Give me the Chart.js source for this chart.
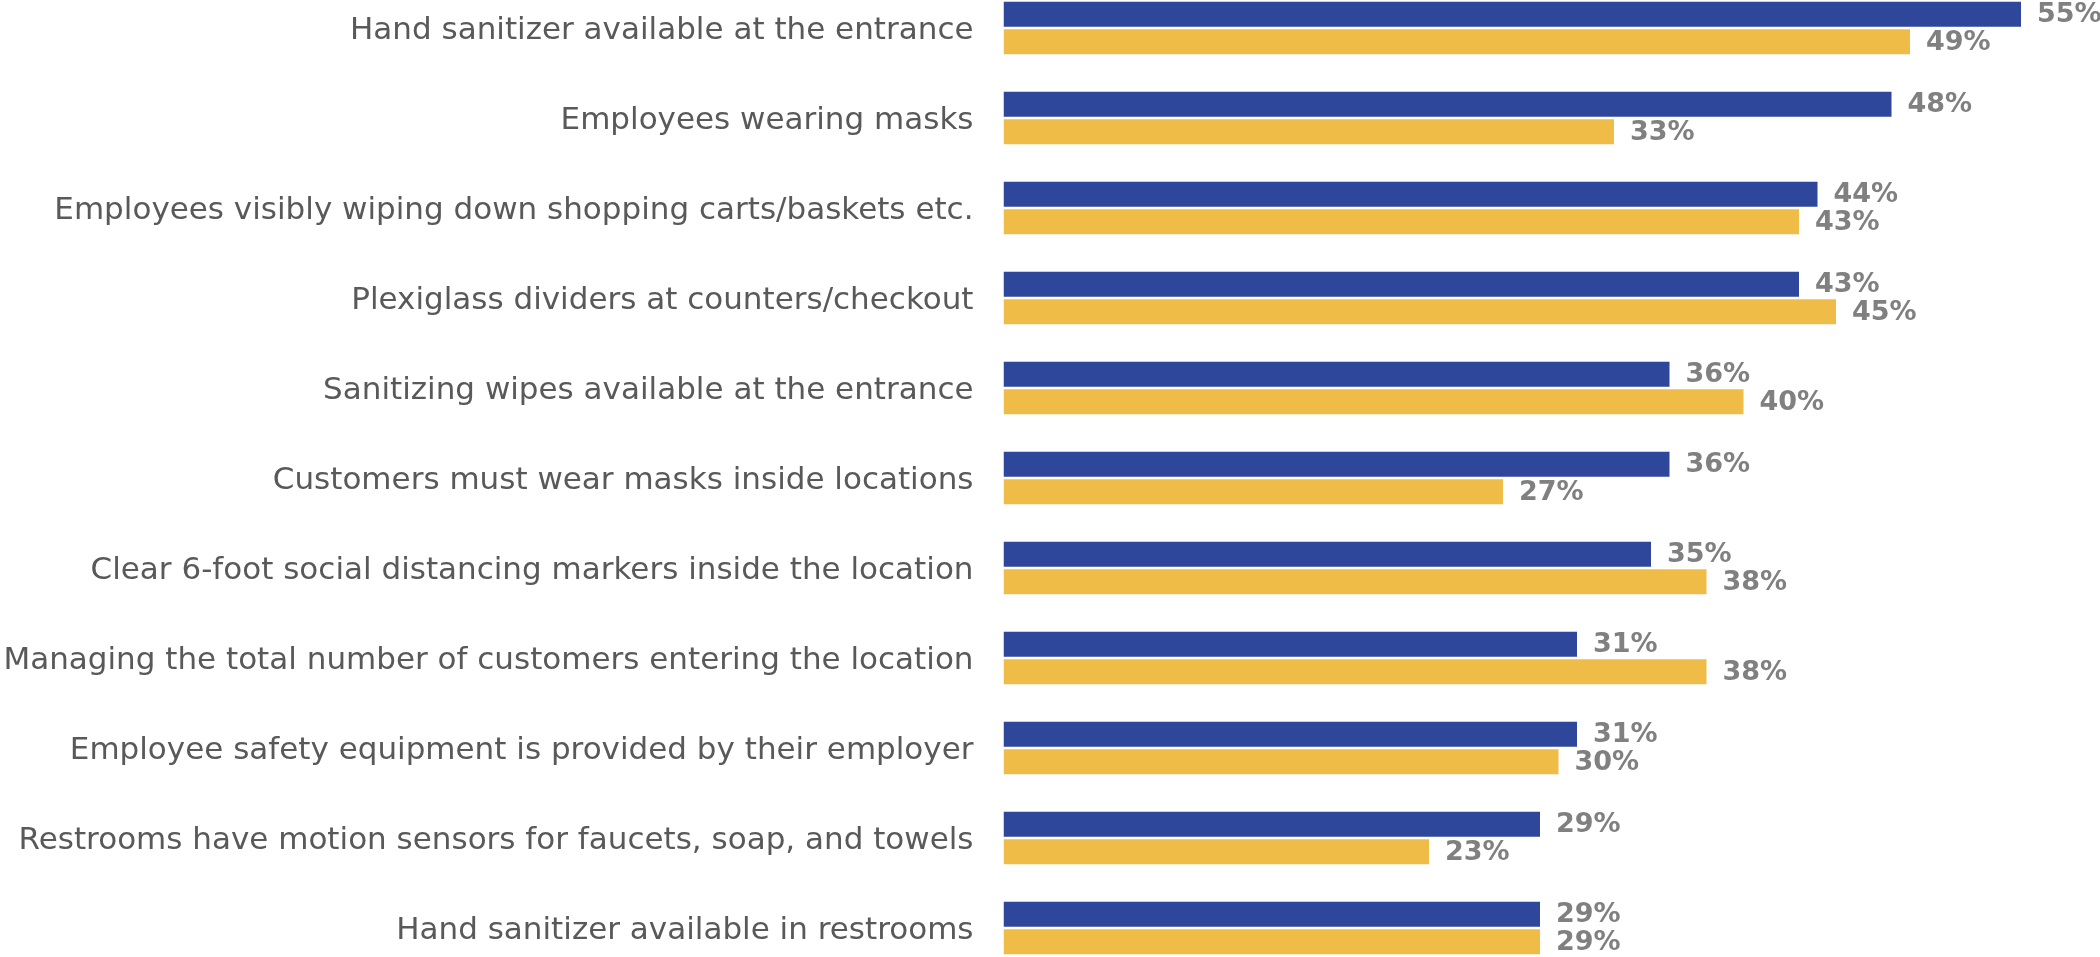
<!DOCTYPE html>
<html>
<head>
<meta charset="utf-8">
<script src="https://cdn.jsdelivr.net/npm/chart.js@4/dist/chart.umd.min.js"></script>
<style>
html,body{margin:0;padding:0;background:#fff;overflow:hidden;width:2100px;height:957px;}
#wrap{position:absolute;left:0;top:-17px;width:2100px;height:990px;}
</style>
</head>
<body>
<div id="wrap"><canvas id="c" width="2100" height="990"></canvas></div>
<script>
const categories = [
  "Hand sanitizer available at the entrance",
  "Employees wearing masks",
  "Employees visibly wiping down shopping carts/baskets etc.",
  "Plexiglass dividers at counters/checkout",
  "Sanitizing wipes available at the entrance",
  "Customers must wear masks inside locations",
  "Clear 6-foot social distancing markers inside the location",
  "Managing the total number of customers entering the location",
  "Employee safety equipment is provided by their employer",
  "Restrooms have motion sensors for faucets, soap, and towels",
  "Hand sanitizer available in restrooms"
];
const seriesBlue = [55, 48, 44, 43, 36, 36, 35, 31, 31, 29, 29];
const seriesYellow = [49, 33, 43, 45, 40, 27, 38, 38, 30, 23, 29];

const valueLabels = {
  id: 'valueLabels',
  afterDatasetsDraw(chart) {
    const ctx = chart.ctx;
    ctx.save();
    ctx.font = 'bold 27px "DejaVu Sans"';
    ctx.fillStyle = '#808080';
    ctx.textAlign = 'left';
    ctx.textBaseline = 'middle';
    chart.data.datasets.forEach((ds, i) => {
      chart.getDatasetMeta(i).data.forEach((bar, j) => {
        ctx.fillText(ds.data[j] + '%', bar.x + 16, bar.y + 1);
      });
    });
    ctx.restore();
  }
};

new Chart(document.getElementById('c'), {
  type: 'bar',
  data: {
    labels: categories,
    datasets: [
      { data: seriesBlue, backgroundColor: '#2F479B', categoryPercentage: 0.611, barPercentage: 0.91 },
      { data: seriesYellow, backgroundColor: '#F0BC48', categoryPercentage: 0.611, barPercentage: 0.91 }
    ]
  },
  options: {
    indexAxis: 'y',
    responsive: false,
    animation: false,
    devicePixelRatio: 1,
    layout: { padding: { left: 0, right: 60.5, top: 0, bottom: 0 } },
    plugins: { legend: { display: false }, tooltip: { enabled: false } },
    scales: {
      x: { display: false, min: 0, max: 56 },
      y: {
        grid: { display: false, drawTicks: false },
        border: { display: false },
        ticks: { color: '#595959', font: { family: '"DejaVu Sans"', size: 31 }, padding: 30, autoSkip: false, labelOffset: 3 },
        afterFit(scale) { scale.width = 1003.5; scale.paddingTop = 0; scale.paddingBottom = 0; }
      }
    }
  },
  plugins: [valueLabels]
});
</script>
</body>
</html>
